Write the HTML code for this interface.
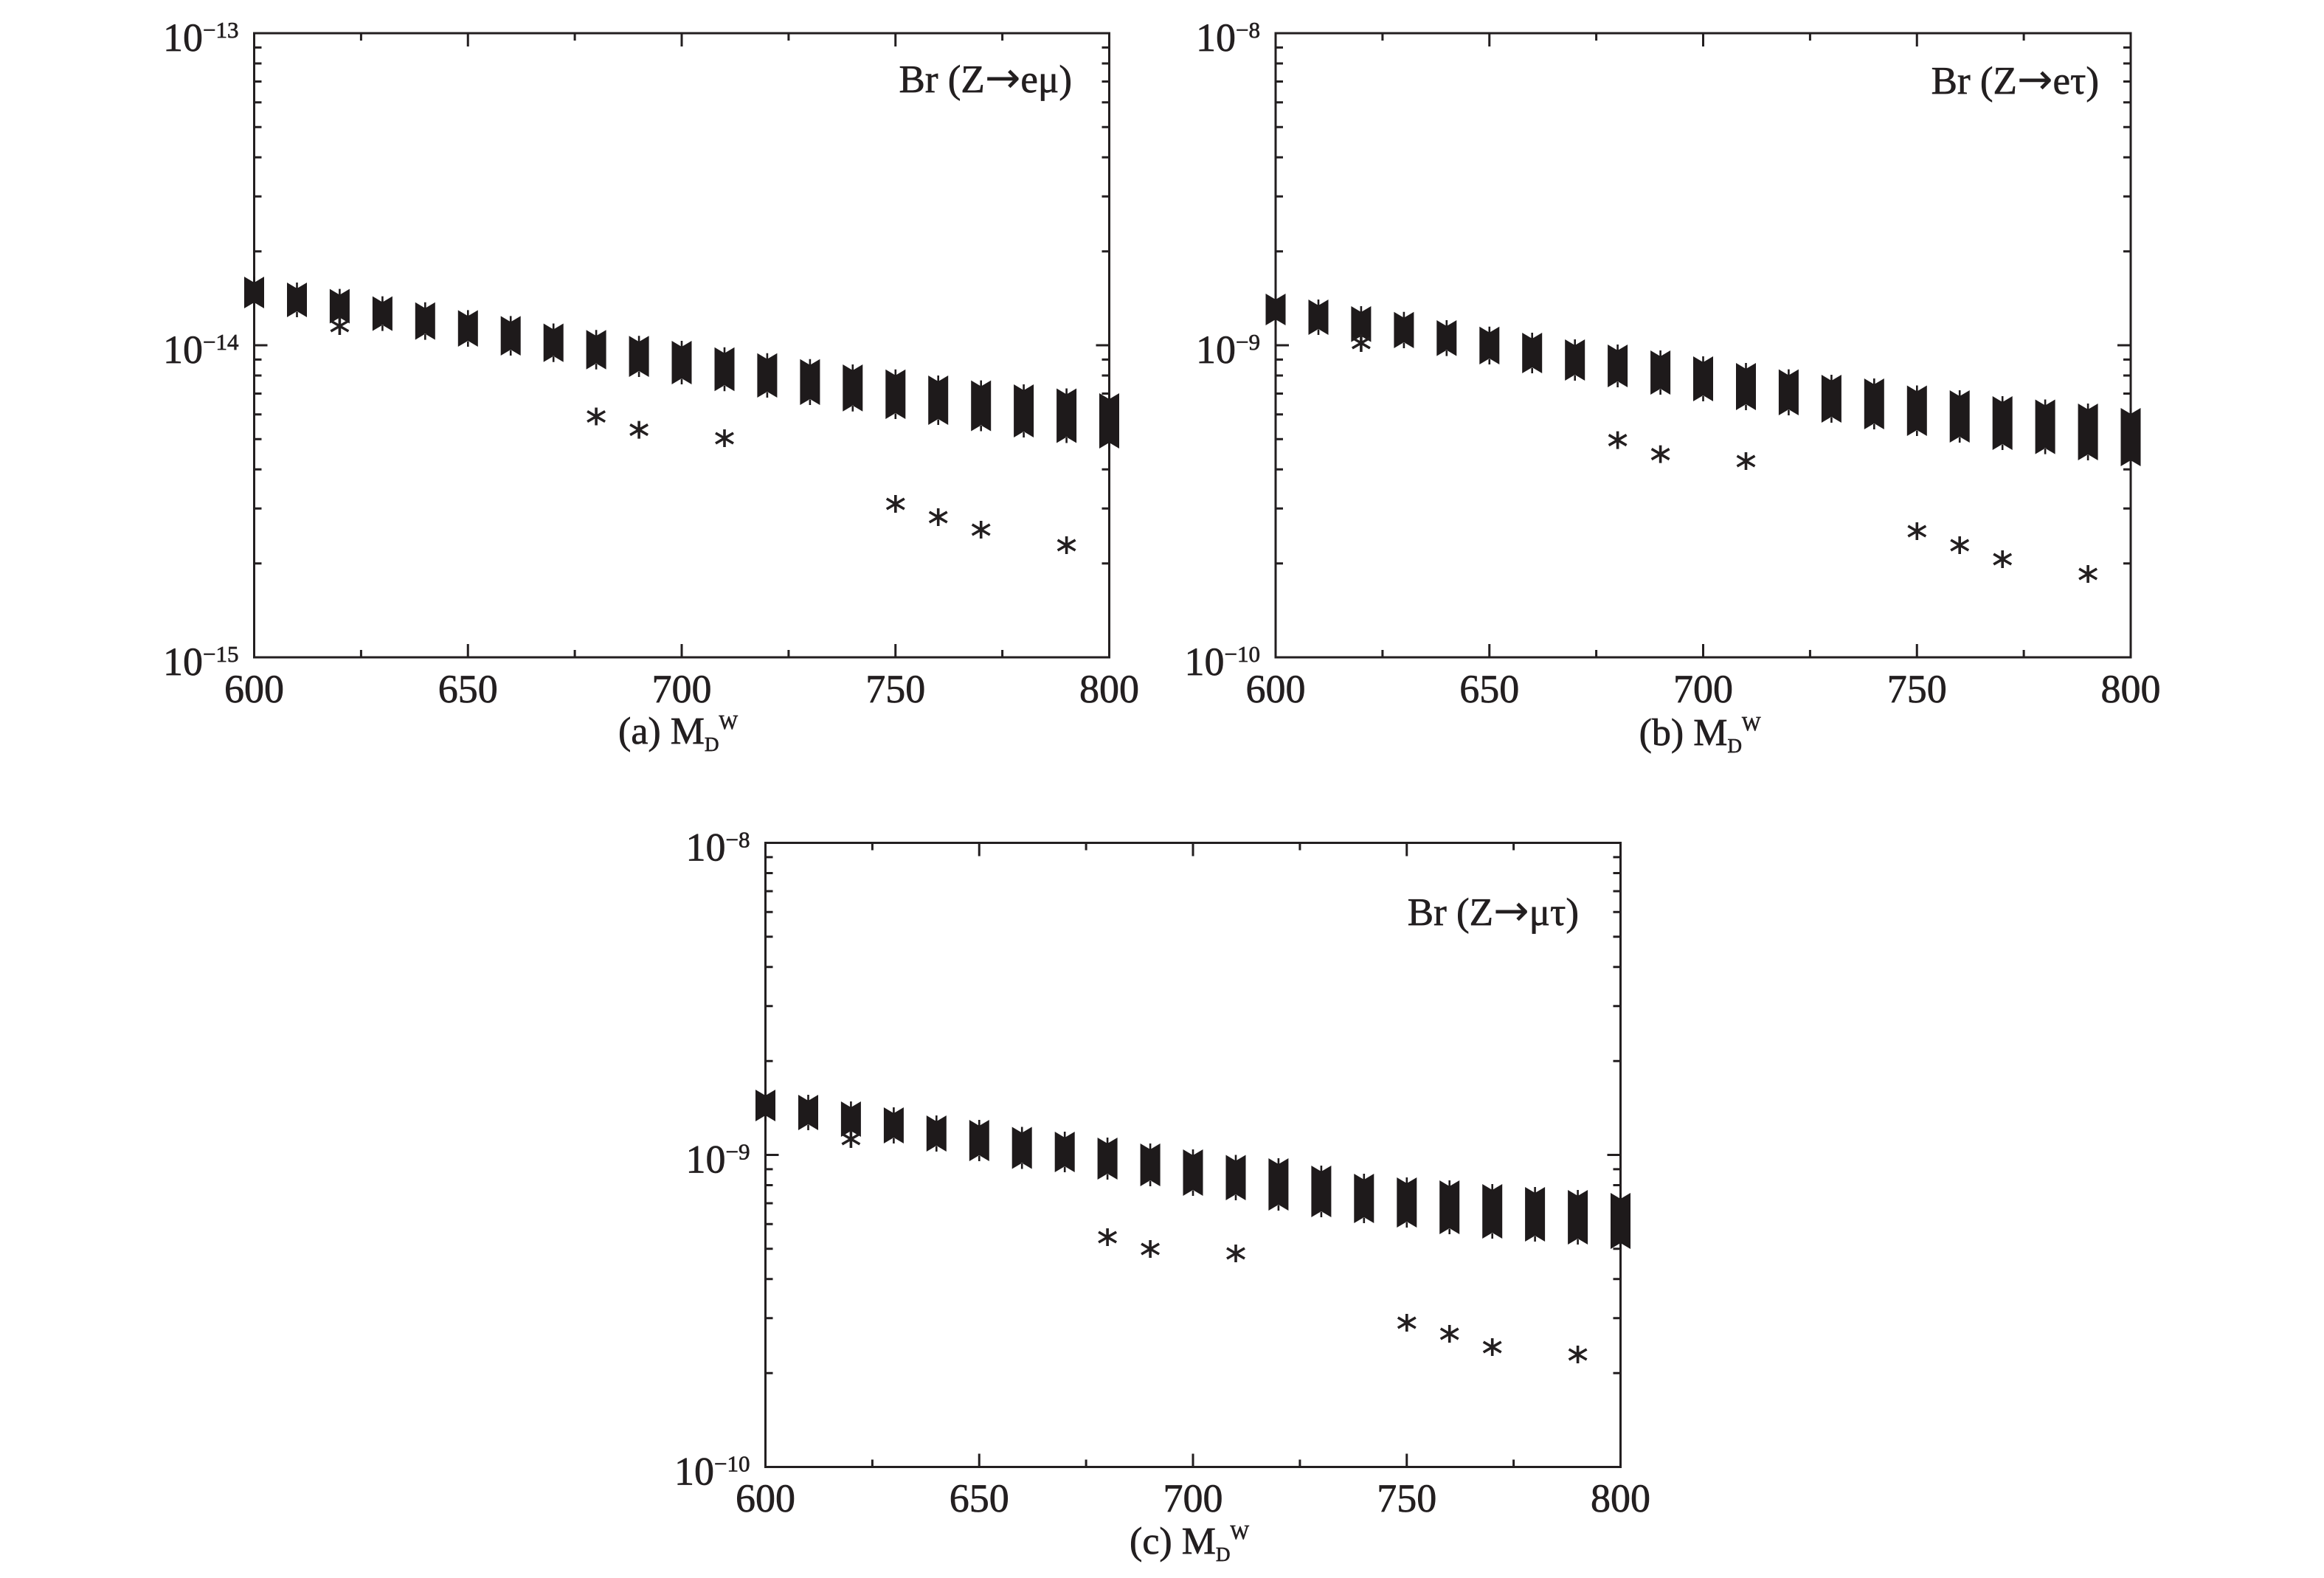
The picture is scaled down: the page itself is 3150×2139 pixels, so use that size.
<!DOCTYPE html>
<html><head><meta charset="utf-8"><style>
html,body{margin:0;padding:0;background:#fff;}
svg{display:block;}
text{font-family:"Liberation Serif","DejaVu Serif",serif;fill:#231f20;stroke:#231f20;stroke-width:0.7px;}
.tk{font-size:54px;}
.sp{font-size:31px;}
.ti{font-size:53px;}
.ar{font-family:"DejaVu Sans",sans-serif;font-size:58px;stroke-width:0;}
.xl{font-size:52px;}
.sb{font-size:27px;}
.bd path{transform-box:view-box;}
</style></head><body>
<svg width="3150" height="2139" viewBox="0 0 3150 2139" xmlns="http://www.w3.org/2000/svg">
<defs>
<g id="ax" fill="none" stroke="#231f20" stroke-width="3">
<rect x="0" y="0" width="1159" height="846"/>
<path d="M0 19.4h10M0 41h10M0 65.5h10M0 93.8h10M0 127.3h10M0 168.3h10M0 221.2h10M0 295.7h10M0 423h18M0 442.4h10M0 464h10M0 488.5h10M0 516.8h10M0 550.3h10M0 591.3h10M0 644.2h10M0 718.7h10
M1159 19.4h-10M1159 41h-10M1159 65.5h-10M1159 93.8h-10M1159 127.3h-10M1159 168.3h-10M1159 221.2h-10M1159 295.7h-10M1159 423h-18M1159 442.4h-10M1159 464h-10M1159 488.5h-10M1159 516.8h-10M1159 550.3h-10M1159 591.3h-10M1159 644.2h-10M1159 718.7h-10
M144.9 846v-10M434.6 846v-10M724.4 846v-10M1014.1 846v-10M289.75 846v-18M579.5 846v-18M869.25 846v-18
M144.9 0v10M434.6 0v10M724.4 0v10M1014.1 0v10M289.75 0v18M579.5 0v18M869.25 0v18"/>
</g>
<g id="st" fill="none" stroke="#231f20" stroke-width="3.6">
<path d="M0 -12V12M-12 -7L12 7M-12 7L12 -7"/>
</g>
</defs>

<use href="#ax" transform="translate(344.5 45)"/>
<use href="#ax" transform="translate(1729 45)"/>
<use href="#ax" transform="translate(1037.5 1142.5)"/>

<!-- Plot (a) bands -->
<g fill="#1e1a1b">
<path transform="translate(344.5 0)" d="M-13.5 375l13.5 8 13.5-8V418l-13.5-8-13.5 8zM-1.3 375h2.6v8h-2.6zM-1.3 418h2.6v-8h-2.6z"/>
<path transform="translate(402.5 0)" d="M-13.5 383l13.5 8 13.5-8V430l-13.5-8-13.5 8zM-1.3 383h2.6v8h-2.6zM-1.3 430h2.6v-8h-2.6z"/>
<path transform="translate(460.4 0)" d="M-13.5 391.6l13.5 8 13.5-8V438.5l-13.5-8-13.5 8zM-1.3 391.6h2.6v8h-2.6zM-1.3 438.5h2.6v-8h-2.6z"/>
<path transform="translate(518.4 0)" d="M-13.5 401.6l13.5 8 13.5-8V448.6l-13.5-8-13.5 8zM-1.3 401.6h2.6v8h-2.6zM-1.3 448.6h2.6v-8h-2.6z"/>
<path transform="translate(576.3 0)" d="M-13.5 409.7l13.5 8 13.5-8V460.6l-13.5-8-13.5 8zM-1.3 409.7h2.6v8h-2.6zM-1.3 460.6h2.6v-8h-2.6z"/>
<path transform="translate(634.3 0)" d="M-13.5 420.4l13.5 8 13.5-8V470l-13.5-8-13.5 8zM-1.3 420.4h2.6v8h-2.6zM-1.3 470h2.6v-8h-2.6z"/>
<path transform="translate(692.2 0)" d="M-13.5 428.4l13.5 8 13.5-8V482l-13.5-8-13.5 8zM-1.3 428.4h2.6v8h-2.6zM-1.3 482h2.6v-8h-2.6z"/>
<path transform="translate(750.2 0)" d="M-13.5 438.5l13.5 8 13.5-8V490.8l-13.5-8-13.5 8zM-1.3 438.5h2.6v8h-2.6zM-1.3 490.8h2.6v-8h-2.6z"/>
<path transform="translate(808.1 0)" d="M-13.5 447.2l13.5 8 13.5-8V500.8l-13.5-8-13.5 8zM-1.3 447.2h2.6v8h-2.6zM-1.3 500.8h2.6v-8h-2.6z"/>
<path transform="translate(866.1 0)" d="M-13.5 455.3l13.5 8 13.5-8V511l-13.5-8-13.5 8zM-1.3 455.3h2.6v8h-2.6zM-1.3 511h2.6v-8h-2.6z"/>
<path transform="translate(924 0)" d="M-13.5 462l13.5 8 13.5-8V521l-13.5-8-13.5 8zM-1.3 462h2.6v8h-2.6zM-1.3 521h2.6v-8h-2.6z"/>
<path transform="translate(982 0)" d="M-13.5 470.7l13.5 8 13.5-8V530.3l-13.5-8-13.5 8zM-1.3 470.7h2.6v8h-2.6zM-1.3 530.3h2.6v-8h-2.6z"/>
<path transform="translate(1039.9 0)" d="M-13.5 478.7l13.5 8 13.5-8V539l-13.5-8-13.5 8zM-1.3 478.7h2.6v8h-2.6zM-1.3 539h2.6v-8h-2.6z"/>
<path transform="translate(1097.9 0)" d="M-13.5 486.8l13.5 8 13.5-8V549l-13.5-8-13.5 8zM-1.3 486.8h2.6v8h-2.6zM-1.3 549h2.6v-8h-2.6z"/>
<path transform="translate(1155.8 0)" d="M-13.5 494l13.5 8 13.5-8V557.8l-13.5-8-13.5 8zM-1.3 494h2.6v8h-2.6zM-1.3 557.8h2.6v-8h-2.6z"/>
<path transform="translate(1213.8 0)" d="M-13.5 500.8l13.5 8 13.5-8V568l-13.5-8-13.5 8zM-1.3 500.8h2.6v8h-2.6zM-1.3 568h2.6v-8h-2.6z"/>
<path transform="translate(1271.7 0)" d="M-13.5 509l13.5 8 13.5-8V576l-13.5-8-13.5 8zM-1.3 509h2.6v8h-2.6zM-1.3 576h2.6v-8h-2.6z"/>
<path transform="translate(1329.7 0)" d="M-13.5 515.6l13.5 8 13.5-8V584.5l-13.5-8-13.5 8zM-1.3 515.6h2.6v8h-2.6zM-1.3 584.5h2.6v-8h-2.6z"/>
<path transform="translate(1387.6 0)" d="M-13.5 521l13.5 8 13.5-8V593l-13.5-8-13.5 8zM-1.3 521h2.6v8h-2.6zM-1.3 593h2.6v-8h-2.6z"/>
<path transform="translate(1445.6 0)" d="M-13.5 526.5l13.5 8 13.5-8V600.5l-13.5-8-13.5 8zM-1.3 526.5h2.6v8h-2.6zM-1.3 600.5h2.6v-8h-2.6z"/>
<path transform="translate(1503.5 0)" d="M-13.5 533l13.5 8 13.5-8V608l-13.5-8-13.5 8zM-1.3 533h2.6v8h-2.6zM-1.3 608h2.6v-8h-2.6z"/>
</g>
<use href="#st" x="460.4" y="442"/>
<use href="#st" x="808.1" y="564.5"/>
<use href="#st" x="866.1" y="582.6"/>
<use href="#st" x="982" y="594"/>
<use href="#st" x="1213.8" y="683"/>
<use href="#st" x="1271.7" y="701"/>
<use href="#st" x="1329.7" y="718"/>
<use href="#st" x="1445.6" y="739"/>

<!-- Plot (b) bands -->
<g fill="#1e1a1b">
<path transform="translate(1729 0)" d="M-13.5 398l13.5 8 13.5-8V441l-13.5-8-13.5 8zM-1.3 398h2.6v8h-2.6zM-1.3 441h2.6v-8h-2.6z"/>
<path transform="translate(1787 0)" d="M-13.5 406l13.5 8 13.5-8V454l-13.5-8-13.5 8zM-1.3 406h2.6v8h-2.6zM-1.3 454h2.6v-8h-2.6z"/>
<path transform="translate(1844.9 0)" d="M-13.5 415l13.5 8 13.5-8V463.6l-13.5-8-13.5 8zM-1.3 415h2.6v8h-2.6zM-1.3 463.6h2.6v-8h-2.6z"/>
<path transform="translate(1902.9 0)" d="M-13.5 422.7l13.5 8 13.5-8V472l-13.5-8-13.5 8zM-1.3 422.7h2.6v8h-2.6zM-1.3 472h2.6v-8h-2.6z"/>
<path transform="translate(1960.8 0)" d="M-13.5 434l13.5 8 13.5-8V482.6l-13.5-8-13.5 8zM-1.3 434h2.6v8h-2.6zM-1.3 482.6h2.6v-8h-2.6z"/>
<path transform="translate(2018.8 0)" d="M-13.5 442.7l13.5 8 13.5-8V494l-13.5-8-13.5 8zM-1.3 442.7h2.6v8h-2.6zM-1.3 494h2.6v-8h-2.6z"/>
<path transform="translate(2076.7 0)" d="M-13.5 451l13.5 8 13.5-8V506l-13.5-8-13.5 8zM-1.3 451h2.6v8h-2.6zM-1.3 506h2.6v-8h-2.6z"/>
<path transform="translate(2134.7 0)" d="M-13.5 460l13.5 8 13.5-8V516l-13.5-8-13.5 8zM-1.3 460h2.6v8h-2.6zM-1.3 516h2.6v-8h-2.6z"/>
<path transform="translate(2192.6 0)" d="M-13.5 467l13.5 8 13.5-8V525l-13.5-8-13.5 8zM-1.3 467h2.6v8h-2.6zM-1.3 525h2.6v-8h-2.6z"/>
<path transform="translate(2250.6 0)" d="M-13.5 475l13.5 8 13.5-8V535l-13.5-8-13.5 8zM-1.3 475h2.6v8h-2.6zM-1.3 535h2.6v-8h-2.6z"/>
<path transform="translate(2308.5 0)" d="M-13.5 483l13.5 8 13.5-8V544l-13.5-8-13.5 8zM-1.3 483h2.6v8h-2.6zM-1.3 544h2.6v-8h-2.6z"/>
<path transform="translate(2366.5 0)" d="M-13.5 492l13.5 8 13.5-8V556l-13.5-8-13.5 8zM-1.3 492h2.6v8h-2.6zM-1.3 556h2.6v-8h-2.6z"/>
<path transform="translate(2424.4 0)" d="M-13.5 500.6l13.5 8 13.5-8V563l-13.5-8-13.5 8zM-1.3 500.6h2.6v8h-2.6zM-1.3 563h2.6v-8h-2.6z"/>
<path transform="translate(2482.4 0)" d="M-13.5 508l13.5 8 13.5-8V573l-13.5-8-13.5 8zM-1.3 508h2.6v8h-2.6zM-1.3 573h2.6v-8h-2.6z"/>
<path transform="translate(2540.3 0)" d="M-13.5 513l13.5 8 13.5-8V582l-13.5-8-13.5 8zM-1.3 513h2.6v8h-2.6zM-1.3 582h2.6v-8h-2.6z"/>
<path transform="translate(2598.3 0)" d="M-13.5 522.5l13.5 8 13.5-8V591l-13.5-8-13.5 8zM-1.3 522.5h2.6v8h-2.6zM-1.3 591h2.6v-8h-2.6z"/>
<path transform="translate(2656.2 0)" d="M-13.5 529l13.5 8 13.5-8V600l-13.5-8-13.5 8zM-1.3 529h2.6v8h-2.6zM-1.3 600h2.6v-8h-2.6z"/>
<path transform="translate(2714.2 0)" d="M-13.5 537l13.5 8 13.5-8V610l-13.5-8-13.5 8zM-1.3 537h2.6v8h-2.6zM-1.3 610h2.6v-8h-2.6z"/>
<path transform="translate(2772.1 0)" d="M-13.5 541.5l13.5 8 13.5-8V615.6l-13.5-8-13.5 8zM-1.3 541.5h2.6v8h-2.6zM-1.3 615.6h2.6v-8h-2.6z"/>
<path transform="translate(2830.1 0)" d="M-13.5 547l13.5 8 13.5-8V624l-13.5-8-13.5 8zM-1.3 547h2.6v8h-2.6zM-1.3 624h2.6v-8h-2.6z"/>
<path transform="translate(2888 0)" d="M-13.5 553l13.5 8 13.5-8V632l-13.5-8-13.5 8zM-1.3 553h2.6v8h-2.6zM-1.3 632h2.6v-8h-2.6z"/>
</g>
<use href="#st" x="1844.9" y="465"/>
<use href="#st" x="2192.6" y="596.6"/>
<use href="#st" x="2250.6" y="615.6"/>
<use href="#st" x="2366.5" y="625"/>
<use href="#st" x="2598.3" y="720"/>
<use href="#st" x="2656.2" y="739"/>
<use href="#st" x="2714.2" y="758"/>
<use href="#st" x="2830.1" y="778"/>

<!-- Plot (c) bands -->
<g fill="#1e1a1b">
<path transform="translate(1037.5 0)" d="M-13.5 1477l13.5 8 13.5-8V1520l-13.5-8-13.5 8zM-1.3 1477h2.6v8h-2.6zM-1.3 1520h2.6v-8h-2.6z"/>
<path transform="translate(1095.5 0)" d="M-13.5 1484l13.5 8 13.5-8V1532l-13.5-8-13.5 8zM-1.3 1484h2.6v8h-2.6zM-1.3 1532h2.6v-8h-2.6z"/>
<path transform="translate(1153.4 0)" d="M-13.5 1493l13.5 8 13.5-8V1541l-13.5-8-13.5 8zM-1.3 1493h2.6v8h-2.6zM-1.3 1541h2.6v-8h-2.6z"/>
<path transform="translate(1211.4 0)" d="M-13.5 1501l13.5 8 13.5-8V1550l-13.5-8-13.5 8zM-1.3 1501h2.6v8h-2.6zM-1.3 1550h2.6v-8h-2.6z"/>
<path transform="translate(1269.3 0)" d="M-13.5 1512l13.5 8 13.5-8V1561l-13.5-8-13.5 8zM-1.3 1512h2.6v8h-2.6zM-1.3 1561h2.6v-8h-2.6z"/>
<path transform="translate(1327.3 0)" d="M-13.5 1518l13.5 8 13.5-8V1574l-13.5-8-13.5 8zM-1.3 1518h2.6v8h-2.6zM-1.3 1574h2.6v-8h-2.6z"/>
<path transform="translate(1385.2 0)" d="M-13.5 1527.5l13.5 8 13.5-8V1584.5l-13.5-8-13.5 8zM-1.3 1527.5h2.6v8h-2.6zM-1.3 1584.5h2.6v-8h-2.6z"/>
<path transform="translate(1443.2 0)" d="M-13.5 1534l13.5 8 13.5-8V1589l-13.5-8-13.5 8zM-1.3 1534h2.6v8h-2.6zM-1.3 1589h2.6v-8h-2.6z"/>
<path transform="translate(1501.1 0)" d="M-13.5 1542l13.5 8 13.5-8V1599l-13.5-8-13.5 8zM-1.3 1542h2.6v8h-2.6zM-1.3 1599h2.6v-8h-2.6z"/>
<path transform="translate(1559.1 0)" d="M-13.5 1550l13.5 8 13.5-8V1608l-13.5-8-13.5 8zM-1.3 1550h2.6v8h-2.6zM-1.3 1608h2.6v-8h-2.6z"/>
<path transform="translate(1617 0)" d="M-13.5 1558l13.5 8 13.5-8V1621l-13.5-8-13.5 8zM-1.3 1558h2.6v8h-2.6zM-1.3 1621h2.6v-8h-2.6z"/>
<path transform="translate(1675 0)" d="M-13.5 1565.5l13.5 8 13.5-8V1627l-13.5-8-13.5 8zM-1.3 1565.5h2.6v8h-2.6zM-1.3 1627h2.6v-8h-2.6z"/>
<path transform="translate(1732.9 0)" d="M-13.5 1570l13.5 8 13.5-8V1641l-13.5-8-13.5 8zM-1.3 1570h2.6v8h-2.6zM-1.3 1641h2.6v-8h-2.6z"/>
<path transform="translate(1790.9 0)" d="M-13.5 1580l13.5 8 13.5-8V1650l-13.5-8-13.5 8zM-1.3 1580h2.6v8h-2.6zM-1.3 1650h2.6v-8h-2.6z"/>
<path transform="translate(1848.8 0)" d="M-13.5 1591l13.5 8 13.5-8V1658l-13.5-8-13.5 8zM-1.3 1591h2.6v8h-2.6zM-1.3 1658h2.6v-8h-2.6z"/>
<path transform="translate(1906.8 0)" d="M-13.5 1596l13.5 8 13.5-8V1664l-13.5-8-13.5 8zM-1.3 1596h2.6v8h-2.6zM-1.3 1664h2.6v-8h-2.6z"/>
<path transform="translate(1964.7 0)" d="M-13.5 1600l13.5 8 13.5-8V1673l-13.5-8-13.5 8zM-1.3 1600h2.6v8h-2.6zM-1.3 1673h2.6v-8h-2.6z"/>
<path transform="translate(2022.7 0)" d="M-13.5 1605l13.5 8 13.5-8V1679l-13.5-8-13.5 8zM-1.3 1605h2.6v8h-2.6zM-1.3 1679h2.6v-8h-2.6z"/>
<path transform="translate(2080.6 0)" d="M-13.5 1609l13.5 8 13.5-8V1683l-13.5-8-13.5 8zM-1.3 1609h2.6v8h-2.6zM-1.3 1683h2.6v-8h-2.6z"/>
<path transform="translate(2138.6 0)" d="M-13.5 1613l13.5 8 13.5-8V1687l-13.5-8-13.5 8zM-1.3 1613h2.6v8h-2.6zM-1.3 1687h2.6v-8h-2.6z"/>
<path transform="translate(2196.5 0)" d="M-13.5 1617l13.5 8 13.5-8V1693l-13.5-8-13.5 8zM-1.3 1617h2.6v8h-2.6zM-1.3 1693h2.6v-8h-2.6z"/>
</g>
<use href="#st" x="1153.4" y="1544"/>
<use href="#st" x="1501.1" y="1677"/>
<use href="#st" x="1559.1" y="1693"/>
<use href="#st" x="1675" y="1699"/>
<use href="#st" x="1906.8" y="1793"/>
<use href="#st" x="1964.7" y="1808"/>
<use href="#st" x="2022.7" y="1826"/>
<use href="#st" x="2138.6" y="1836"/>

<!-- Plot (a) text -->
<text class="tk" x="323.5" y="69" text-anchor="end">10<tspan class="sp" dy="-18">−13</tspan></text>
<text class="tk" x="323.5" y="492" text-anchor="end">10<tspan class="sp" dy="-18">−14</tspan></text>
<text class="tk" x="323.5" y="915" text-anchor="end">10<tspan class="sp" dy="-18">−15</tspan></text>
<text class="tk" x="344.5" y="952" text-anchor="middle">600</text>
<text class="tk" x="634.3" y="952" text-anchor="middle">650</text>
<text class="tk" x="924" y="952" text-anchor="middle">700</text>
<text class="tk" x="1213.8" y="952" text-anchor="middle">750</text>
<text class="tk" x="1503.5" y="952" text-anchor="middle">800</text>
<text class="ti" x="1453" y="125" text-anchor="end">Br (Z<tspan class="ar">→</tspan>eμ)</text>
<text class="xl" x="919" y="1008" text-anchor="middle">(a) M<tspan class="sb" dy="10">D</tspan><tspan class="sb" dy="-30">W</tspan></text>

<!-- Plot (b) text -->
<text class="tk" x="1708" y="69" text-anchor="end">10<tspan class="sp" dy="-18">−8</tspan></text>
<text class="tk" x="1708" y="492" text-anchor="end">10<tspan class="sp" dy="-18">−9</tspan></text>
<text class="tk" x="1708" y="915" text-anchor="end">10<tspan class="sp" dy="-18">−10</tspan></text>
<text class="tk" x="1729" y="952" text-anchor="middle">600</text>
<text class="tk" x="2018.8" y="952" text-anchor="middle">650</text>
<text class="tk" x="2308.5" y="952" text-anchor="middle">700</text>
<text class="tk" x="2598.3" y="952" text-anchor="middle">750</text>
<text class="tk" x="2888" y="952" text-anchor="middle">800</text>
<text class="ti" x="2845" y="127" text-anchor="end">Br (Z<tspan class="ar">→</tspan>eτ)</text>
<text class="xl" x="2304" y="1010" text-anchor="middle">(b) M<tspan class="sb" dy="10">D</tspan><tspan class="sb" dy="-30">W</tspan></text>

<!-- Plot (c) text -->
<text class="tk" x="1016.5" y="1166.5" text-anchor="end">10<tspan class="sp" dy="-18">−8</tspan></text>
<text class="tk" x="1016.5" y="1589.5" text-anchor="end">10<tspan class="sp" dy="-18">−9</tspan></text>
<text class="tk" x="1016.5" y="2012.5" text-anchor="end">10<tspan class="sp" dy="-18">−10</tspan></text>
<text class="tk" x="1037.5" y="2049" text-anchor="middle">600</text>
<text class="tk" x="1327.3" y="2049" text-anchor="middle">650</text>
<text class="tk" x="1617" y="2049" text-anchor="middle">700</text>
<text class="tk" x="1906.8" y="2049" text-anchor="middle">750</text>
<text class="tk" x="2196.5" y="2049" text-anchor="middle">800</text>
<text class="ti" x="2140" y="1254" text-anchor="end">Br (Z<tspan class="ar">→</tspan>μτ)</text>
<text class="xl" x="1612" y="2106" text-anchor="middle">(c) M<tspan class="sb" dy="10">D</tspan><tspan class="sb" dy="-30">W</tspan></text>
</svg>
</body></html>
